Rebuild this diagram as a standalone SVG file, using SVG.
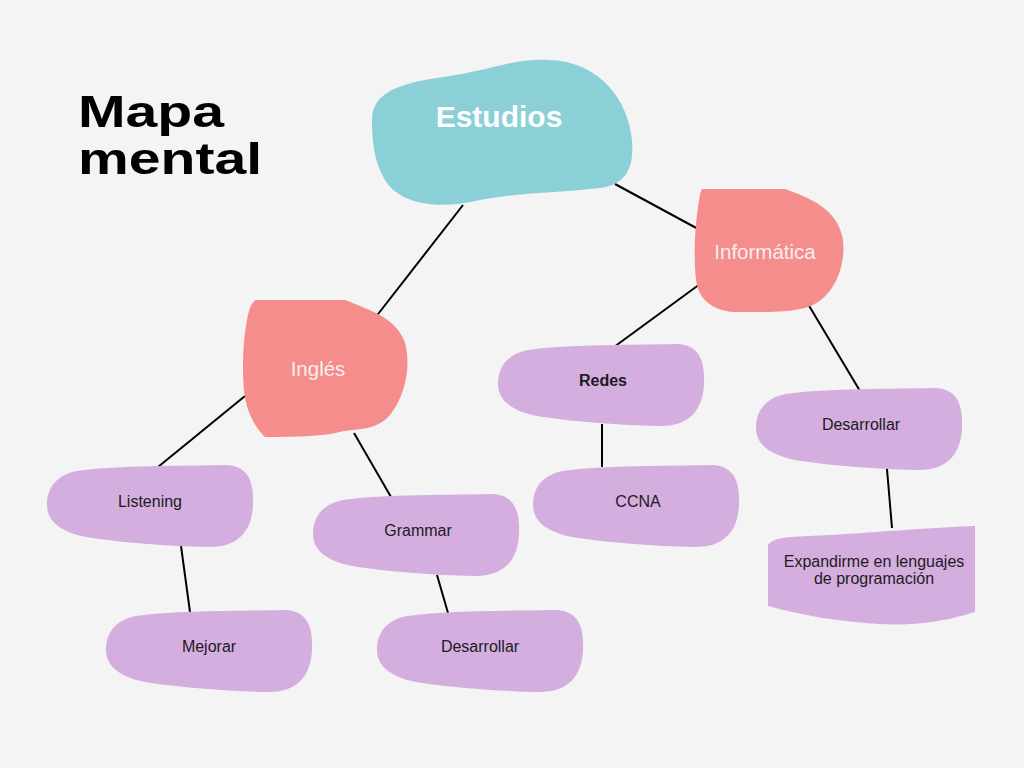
<svg xmlns="http://www.w3.org/2000/svg" width="1024" height="768" viewBox="0 0 1024 768">
<defs>
<style>
.lbl{font-family:"Liberation Sans",Arial,sans-serif;font-size:16px;fill:#1e1a1f;text-anchor:middle}
.pk{font-family:"Liberation Sans",Arial,sans-serif;font-size:20.5px;fill:#fbeeee;text-anchor:middle}
.ttl{font-family:"Liberation Sans",Arial,sans-serif;font-size:45px;font-weight:bold;fill:#000}
.lav{fill:#d4aedf}
.sal{fill:#f48d8b}
.con line{stroke:#000;stroke-width:2}
</style>
<path id="blob" d="M 30,6 C 70,0 140,1 178,0 C 203,0 207,20 206,40 C 205,65 192,83 160,82 C 120,81 80,78 45,73 C 12,68 0,55 0,40 C 0,22 10,10 30,6 Z"/>
</defs>
<rect width="1024" height="768" fill="#f4f4f4"/>
<g id="title">
<text class="ttl" x="78" y="127" textLength="146" lengthAdjust="spacingAndGlyphs">Mapa</text>
<text class="ttl" x="78" y="174" textLength="184" lengthAdjust="spacingAndGlyphs">mental</text>
</g>
<g class="con" id="connectors">
<line x1="463" y1="205" x2="375" y2="318"/>
<line x1="615" y1="184" x2="700" y2="230"/>
<line x1="700" y1="284" x2="614" y2="347"/>
<line x1="808" y1="304" x2="860" y2="391"/>
<line x1="245" y1="396" x2="158" y2="467"/>
<line x1="354" y1="433" x2="391" y2="497"/>
<line x1="181" y1="546" x2="190" y2="612"/>
<line x1="437" y1="575" x2="448" y2="613"/>
<line x1="602" y1="424" x2="602" y2="467"/>
<line x1="887" y1="469" x2="892" y2="528"/>
</g>
<g id="estudios">
<path fill="#8ad0d6" d="M 372,120 C 372,90 405,82 450,76 C 490,70 515,58 550,60 C 600,62 628,100 632,140 C 635,175 620,185 600,188 C 560,193 520,192 480,200 C 440,210 400,205 385,180 C 374,162 372,140 372,120 Z"/>
<text x="499" y="127" font-family="Liberation Sans, Arial, sans-serif" font-size="30" font-weight="bold" fill="#ffffff" text-anchor="middle">Estudios</text>
</g>
<g id="informatica">
<path class="sal" d="M 702,189 L 785,189 C 810,198 835,208 842,235 C 848,262 835,300 805,308 C 785,313 760,312 740,312 C 715,313 700,300 697,285 C 693,265 695,230 697,215 C 699,200 700,192 702,189 Z"/>
<text class="pk" x="765" y="259">Informática</text>
</g>
<g id="ingles">
<path class="sal" d="M 256,300 L 345,300 C 370,310 395,318 404,340 C 412,362 406,395 390,415 C 375,432 355,428 340,432 C 325,436 300,437 265,437 C 252,425 245,405 244,390 C 242,370 243,340 247,320 C 249,308 252,302 256,300 Z"/>
<text class="pk" x="318" y="376">Inglés</text>
</g>
<g id="listening"><use href="#blob" class="lav" x="47" y="465"/><text class="lbl" x="150" y="507">Listening</text></g>
<g id="mejorar"><use href="#blob" class="lav" x="106" y="610"/><text class="lbl" x="209" y="652">Mejorar</text></g>
<g id="grammar"><use href="#blob" class="lav" x="313" y="494"/><text class="lbl" x="418" y="536">Grammar</text></g>
<g id="desarrollar1"><use href="#blob" class="lav" x="377" y="610"/><text class="lbl" x="480" y="652">Desarrollar</text></g>
<g id="redes"><use href="#blob" class="lav" x="498" y="344"/><text class="lbl" x="603" y="386" font-weight="bold">Redes</text></g>
<g id="ccna"><use href="#blob" class="lav" x="533" y="465"/><text class="lbl" x="638" y="507">CCNA</text></g>
<g id="desarrollar2"><use href="#blob" class="lav" x="756" y="388"/><text class="lbl" x="861" y="430">Desarrollar</text></g>
<g id="expandirme">
<path class="lav" d="M 768,545 C 775,535 800,537 830,535 C 880,532 940,527 975,526 L 975,612 C 950,620 920,626 880,624 C 840,622 800,615 768,606 Z"/>
<text class="lbl" x="874" y="567">Expandirme en lenguajes</text>
<text class="lbl" x="874" y="584">de programación</text>
</g>
</svg>
